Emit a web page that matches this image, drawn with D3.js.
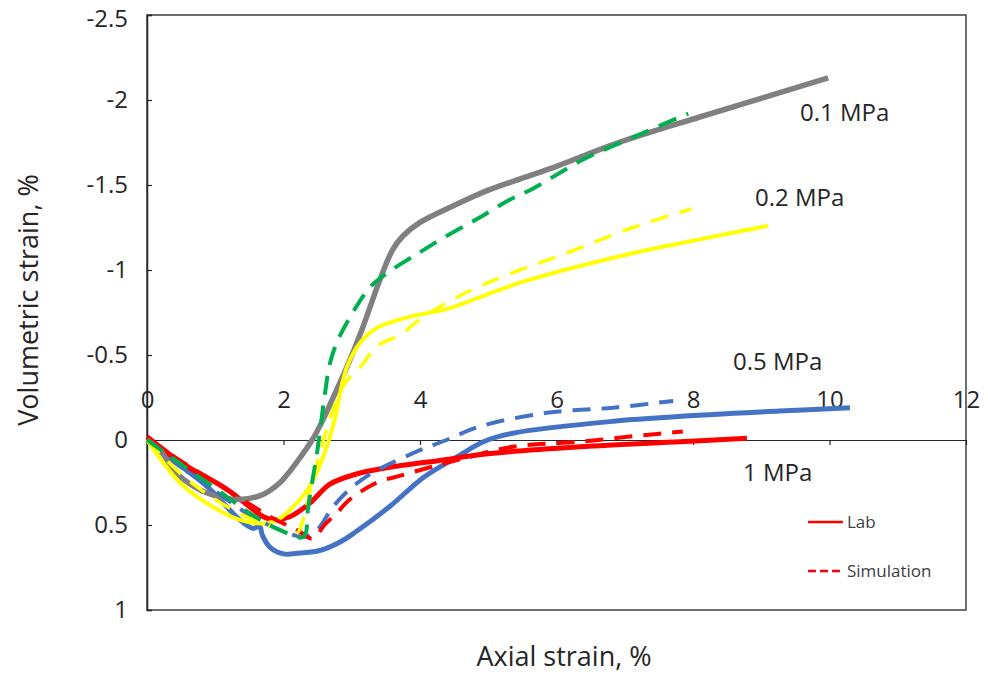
<!DOCTYPE html>
<html><head><meta charset="utf-8">
<script src="https://cdn.jsdelivr.net/npm/d3@7"></script>
<style>
html,body{margin:0;padding:0;background:#fff;}
svg text{font-family:"Open Sans",sans-serif;}
</style></head>
<body><svg id="chart" width="988" height="675"></svg>
<script>
// ---- data ----
const xTicks = [0, 2, 4, 6, 8, 10, 12];
const yTicks = [-2.5, -2, -1.5, -1, -0.5, 0, 0.5, 1];
const yTickLabels = ["-2.5", "-2", "-1.5", "-1", "-0.5", "0", "0.5", "1"];

// 0.1 MPa lab (grey solid)
const lab01X = [0, 0.19, 0.38, 0.53, 0.87, 1.36, 1.7, 1.95, 2.1, 2.25, 2.42, 2.58, 2.75, 2.93, 3.15, 3.41, 3.6, 3.75, 4.0, 4.5, 5.0, 5.5, 6.0, 6.88, 8.1, 9.08, 9.98];
const lab01Y = [0, 0.06, 0.17, 0.23, 0.31, 0.35, 0.32, 0.25, 0.18, 0.10, 0, -0.12, -0.27, -0.43, -0.65, -0.94, -1.12, -1.2, -1.28, -1.38, -1.47, -1.54, -1.61, -1.745, -1.90, -2.02, -2.13];
// 0.1 MPa simulation (green dashed)
const sim01X = [0, 0.63, 1.02, 1.36, 1.66, 1.95, 2.29, 2.36, 2.41, 2.49, 2.53, 2.6, 2.68, 2.8, 3.0, 3.27, 3.51, 3.9, 4.39, 4.88, 5.3, 5.66, 6.39, 7.12, 7.93];
const sim01Y = [0, 0.18, 0.29, 0.39, 0.47, 0.53, 0.57, 0.40, 0.27, 0.08, -0.04, -0.25, -0.45, -0.59, -0.74, -0.9, -0.98, -1.08, -1.2, -1.31, -1.41, -1.48, -1.65, -1.78, -1.92];
// 0.2 MPa lab (yellow solid)
const lab02X = [0, 0.48, 0.87, 1.36, 1.75, 1.95, 2.24, 2.39, 2.58, 2.75, 2.82, 2.93, 3.12, 3.37, 3.9, 4.39, 4.88, 5.5, 7.13, 8.1, 9.1];
const lab02Y = [0, 0.25, 0.37, 0.47, 0.49, 0.46, 0.35, 0.27, 0.10, -0.12, -0.26, -0.43, -0.57, -0.66, -0.73, -0.77, -0.84, -0.93, -1.10, -1.18, -1.26];
// 0.2 MPa simulation (yellow dashed)
const sim02X = [0, 0.5, 1.0, 1.5, 1.9, 2.19, 2.3, 2.4, 2.55, 2.7, 2.85, 2.95, 3.07, 3.37, 3.71, 4.0, 4.59, 5.27, 6.15, 7.12, 7.98];
const sim02Y = [0, 0.2, 0.35, 0.46, 0.52, 0.55, 0.45, 0.28, 0.05, -0.15, -0.3, -0.36, -0.40, -0.55, -0.62, -0.71, -0.85, -0.97, -1.10, -1.25, -1.36];
// 0.5 MPa lab (blue solid)
const lab05X = [0, 0.38, 0.87, 1.36, 1.55, 1.65, 1.69, 1.8, 2.0, 2.24, 2.53, 2.83, 3.06, 3.56, 4.05, 4.54, 4.93, 5.36, 6.83, 8.29, 9.27, 10.3];
const lab05Y = [0, 0.12, 0.27, 0.47, 0.52, 0.51, 0.56, 0.63, 0.67, 0.665, 0.65, 0.60, 0.54, 0.39, 0.22, 0.10, 0.01, -0.04, -0.11, -0.15, -0.17, -0.19];
// 0.5 MPa simulation (blue dashed)
const sim05X = [0, 0.5, 1.0, 1.5, 1.9, 2.3, 2.49, 2.73, 2.97, 3.27, 3.56, 4.0, 4.39, 4.88, 5.86, 6.83, 7.71];
const sim05Y = [0, 0.15, 0.3, 0.44, 0.52, 0.57, 0.53, 0.39, 0.29, 0.20, 0.14, 0.06, 0.0, -0.08, -0.16, -0.19, -0.23];
// 1 MPa lab (red solid)
const lab1X = [0, 0.53, 1.17, 1.7, 1.85, 2.1, 2.39, 2.68, 3.07, 3.56, 4.29, 5.03, 6.34, 7.81, 8.79];
const lab1Y = [-0.02, 0.14, 0.29, 0.45, 0.47, 0.45, 0.37, 0.26, 0.20, 0.16, 0.12, 0.08, 0.04, 0.01, -0.01];
// 1 MPa simulation (red dashed)
const sim1X = [0, 0.6, 1.2, 1.8, 2.2, 2.43, 2.6, 2.78, 2.97, 3.37, 3.71, 4.15, 4.63, 5.36, 6.34, 7.32, 7.85];
const sim1Y = [0, 0.15, 0.3, 0.45, 0.53, 0.58, 0.5, 0.43, 0.35, 0.25, 0.21, 0.16, 0.11, 0.04, 0.01, -0.03, -0.05];

const pressureLabels = ["0.1 MPa", "0.2 MPa", "0.5 MPa", "1 MPa"];
const legendLabels = ["Lab", "Simulation"];

// ---- chart ----
const svg = d3.select("#chart");
const L = 147, R = 966, T = 15, B = 610;
const x = d3.scaleLinear().domain([0, 12]).range([L, R]);
const y = d3.scaleLinear().domain([-2.5, 1]).range([T, B]);

// frame
svg.append("rect").attr("x", L).attr("y", T).attr("width", R - L).attr("height", B - T)
  .attr("fill", "none").attr("stroke", "#404040").attr("stroke-width", 1.5);

// y axis (ticks inside)
const yAx = svg.append("g").attr("transform", `translate(${L},0)`)
  .call(d3.axisLeft(y).tickValues(yTicks).tickSize(-5).tickPadding(19)
    .tickFormat((d, i) => yTickLabels[i]));
yAx.select(".domain").attr("stroke", "#262626").attr("stroke-width", 1.5);
yAx.selectAll(".tick line").attr("stroke", "#262626").attr("stroke-width", 1.2);
yAx.selectAll(".tick text").attr("font-size", 24).attr("fill", "#262626")
  .attr("font-family", "Open Sans");
yAx.selectAll(".tick").filter(d => d === -2.5).select("text").attr("y", 4);

// x axis at y = 0, labels above
const xAx = svg.append("g").attr("transform", `translate(0,${y(0)})`)
  .call(d3.axisBottom(x).tickValues(xTicks).tickSize(5).tickFormat(d3.format("d")));
xAx.select(".domain").attr("stroke", "#262626").attr("stroke-width", 1.2);
xAx.selectAll(".tick line").attr("stroke", "#262626").attr("stroke-width", 1.2);
xAx.selectAll(".tick text").attr("font-size", 24).attr("fill", "#262626")
  .attr("font-family", "Open Sans").attr("y", -40).attr("dy", "0.32em");
xAx.selectAll(".tick").filter(d => d === 0 || d === 12).select("line").remove();

const line = d3.line().x(d => x(d[0])).y(d => y(d[1])).curve(d3.curveCatmullRom.alpha(0.5));
const zip = (a, b) => a.map((v, i) => [v, b[i]]);

const series = [
  {xs: lab05X, ys: lab05Y, color: "#4472c4", w: 5, dash: null},
  {xs: lab1X, ys: lab1Y, color: "#ff0000", w: 5, dash: null},
  {xs: lab01X, ys: lab01Y, color: "#808080", w: 5.5, dash: null},
  {xs: lab02X, ys: lab02Y, color: "#ffff00", w: 4, dash: null},
  {xs: sim05X, ys: sim05Y, color: "#4472c4", w: 4, dash: "18,11"},
  {xs: sim1X, ys: sim1Y, color: "#ff0000", w: 4, dash: "18,11"},
  {xs: sim02X, ys: sim02Y, color: "#ffff00", w: 3.5, dash: "18,12"},
  {xs: sim01X, ys: sim01Y, color: "#00b050", w: 4, dash: "19,11"}
];
series.forEach(s => {
  svg.append("path").attr("d", line(zip(s.xs, s.ys)))
    .attr("fill", "none").attr("stroke", s.color).attr("stroke-width", s.w)
    .attr("stroke-linecap", "butt").attr("stroke-linejoin", "round")
    .attr("stroke-dasharray", s.dash);
});

// pressure labels
const labelPos = [[800, 121], [755, 206], [733, 370], [743, 481]];
pressureLabels.forEach((t, i) => {
  svg.append("text").attr("x", labelPos[i][0]).attr("y", labelPos[i][1])
    .attr("font-size", 24).attr("fill", "#262626").text(t);
});

// legend
const legY = [522, 571];
legendLabels.forEach((t, i) => {
  svg.append("line").attr("x1", 808).attr("x2", 843).attr("y1", legY[i]).attr("y2", legY[i])
    .attr("stroke", "#ff0000").attr("stroke-width", 2.5)
    .attr("stroke-dasharray", i === 1 ? "8,4" : null);
  svg.append("text").attr("x", 847).attr("y", legY[i]).attr("dy", "0.35em")
    .attr("font-size", 17).attr("fill", "#404040").text(t);
});

// axis titles
svg.append("text").attr("x", 564).attr("y", 657).attr("dy", "0.35em")
  .attr("text-anchor", "middle").attr("font-size", 27).attr("fill", "#262626")
  .text("Axial strain, %");
svg.append("text").attr("transform", "translate(29,300) rotate(-90)").attr("dy", "0.35em")
  .attr("text-anchor", "middle").attr("font-size", 27).attr("fill", "#262626")
  .text("Volumetric strain, %");
</script></body></html>
